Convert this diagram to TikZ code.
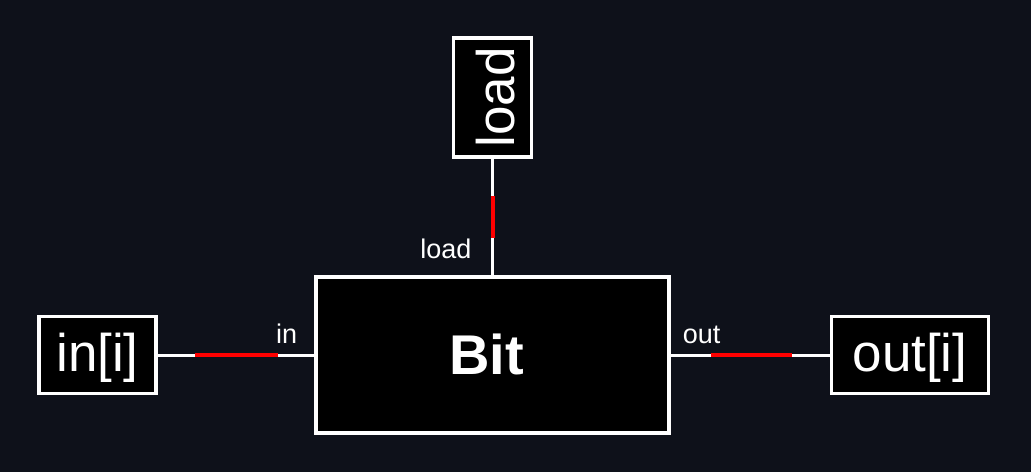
\documentclass[tikz,border=0pt]{standalone}
\usepackage{fontspec}
\setmainfont{Liberation Sans}
\usetikzlibrary{calc}
\definecolor{bgc}{RGB}{14,17,26}
\definecolor{sigred}{RGB}{255,0,0}
\tikzset{
  box/.style={draw=white, line width=3.5pt, fill=black, inner sep=0pt},
  boxtext/.style={text=white, inner sep=0pt, font=\fontsize{53}{58}\selectfont},
  wire/.style={draw=white, line width=3pt},
  pulse/.style={draw=sigred, line width=4pt},
  lbl/.style={text=white, inner sep=0pt, font=\fontsize{27}{30}\selectfont}
}
\begin{document}
\begin{tikzpicture}[x=1pt,y=-1pt]
\fill[bgc] (0,0) rectangle (1031,472);
\useasboundingbox (0,0) rectangle (1031,472);
\node[box, minimum width=353pt, minimum height=156pt] (bit) at (492.5,355) {};
\node[box, minimum width=117pt, minimum height=77pt] (inp) at (97.5,355) {};
\node[box, minimum width=157pt, minimum height=77pt] (outp) at (910,355) {};
\node[box, minimum width=78pt, minimum height=119pt] (ld) at (492.5,97.5) {};
\node[boxtext, font=\fontsize{56}{62}\selectfont\bfseries] (bitt) at ($(bit.center)+(-6,-1)$) {Bit};
\node[boxtext] (inpt) at ($(inp.center)+(0,3)$) {in[i]};
\node[boxtext] (outpt) at ($(outp.center)+(0,3)$) {out[i]};
\node[boxtext, rotate=90] (ldt) at ($(ld.center)+(3,0)$) {load};
\draw[wire] (inp.east) -- (bit.west);
\draw[wire] (bit.east) -- (outp.west);
\draw[wire] (ld.south) -- (bit.north);
\draw[pulse] ($(inp.east)!0.24!(bit.west)$) -- ($(inp.east)!0.77!(bit.west)$);
\draw[pulse] ($(bit.east)!0.25!(outp.west)$) -- ($(bit.east)!0.76!(outp.west)$);
\draw[pulse] ($(ld.south)!0.32!(bit.north)$) -- ($(ld.south)!0.68!(bit.north)$);
\node[lbl, anchor=base east] (lin) at ($(bit.west)+(-17,-12)$) {in};
\node[lbl, anchor=base west] (lout) at ($(bit.east)+(12,-12)$) {out};
\node[lbl, anchor=base east] (lload) at ($(bit.north)+(-21,-17)$) {load};
\end{tikzpicture}
\end{document}
